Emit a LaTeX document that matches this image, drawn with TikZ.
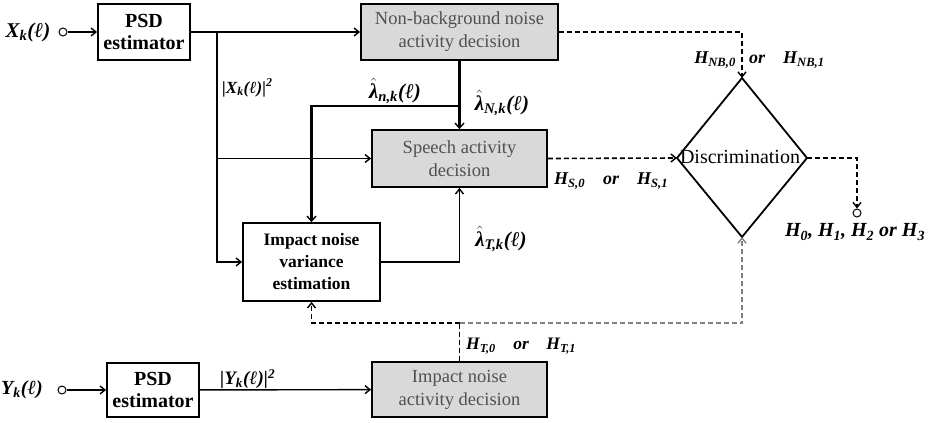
\documentclass[tikz,border=0pt]{standalone}
\usepackage{fontspec}
\setmainfont{Liberation Serif}
\usetikzlibrary{arrows.meta,shapes.geometric}
\definecolor{boxgray}{HTML}{D9D9D9}
\definecolor{txtgray}{HTML}{505050}
\newcommand{\lhat}{$\hat{\hbox{λ}}$}
\begin{document}
\begin{tikzpicture}[x=1pt,y=-1pt,
  every node/.style={font=\fontsize{18.5}{23}\selectfont},
  blk/.style={draw,line width=1.8pt,align=center,inner sep=0pt},
  gblk/.style={blk,fill=boxgray,text=txtgray},
  lbl/.style={font=\fontsize{#1}{#1}\selectfont\bfseries\itshape,inner sep=1pt},
  lbl/.default=18,
  conn/.style={line width=1.4pt,-{Straight Barb[length=5pt,width=8pt]}},
  tconn/.style={line width=2.6pt,-{Straight Barb[length=5pt,width=9pt,line width=1.4pt]}},
  dconn/.style={line width=1.6pt,dash pattern=on 5pt off 3pt,-{Straight Barb[length=5pt,width=8pt,line width=1.4pt]}},
  term/.style={circle,draw,line width=1pt,minimum size=8pt,inner sep=0pt}]
\useasboundingbox (0,0) rectangle (935,423);
% blocks
\node[blk,minimum width=92,minimum height=56,font=\fontsize{20}{22}\selectfont\bfseries] (psd1) at (144,32) {PSD\\estimator};
\node[gblk,minimum width=197,minimum height=56] (nb) at (459.5,32) {Non-background noise\\activity decision};
\node[gblk,minimum width=175,minimum height=57] (sp) at (459.5,158.5) {Speech activity\\decision};
\node[blk,minimum width=137,minimum height=78,font=\fontsize{17.5}{22}\selectfont\bfseries] (inv) at (311.5,262) {Impact noise\\variance\\estimation};
\node[blk,minimum width=92,minimum height=54,font=\fontsize{20}{22}\selectfont\bfseries] (psd2) at (153,390) {PSD\\estimator};
\node[gblk,minimum width=175,minimum height=55] (ina) at (459.5,389.5) {Impact noise\\activity decision};
% diamond
\coordinate (dt) at (742,78);
\coordinate (dl) at (677,158);
\coordinate (dr) at (807,158);
\coordinate (db) at (742,237);
\draw[line width=1.8pt,line join=miter] (dt) -- (dr) -- (db) -- (dl) -- cycle;
\node[inner sep=0pt,font=\fontsize{20}{22}\selectfont] (disc) at (740,157) {Discrimination};
% terminals
\node[term] (cx) at (63,32) {};
\node[term] (cy) at (62,390) {};
\node[term] (co) at (857,213) {};
% labels
\node[lbl=21] (lx) at (28,32) {X\textsubscript{k}(ℓ)};
\node[lbl=20] (ly) at (22,390) {Y\textsubscript{k}(ℓ)};
% junctions
\coordinate (j1) at (217,32);
\coordinate (b1) at (459.5,106);
\coordinate (h1) at (459.5,323);
% connectors
\draw[conn] (cx) -- (psd1);
\draw[conn] (cy) -- (psd2);
\draw[conn] (psd1.east) -- (nb.west);
\draw[line width=2.6pt] (j1) -- (217,158.5);
\draw[conn] (j1) |- (sp.west);
\draw[conn] (j1) |- (inv.west);
\draw[tconn] (nb.south) -- (sp.north);
\draw[tconn] (b1) -| (inv.north);
\draw[conn] (inv.east) -| (sp.south);
\draw[conn] (psd2) -- (ina);
\draw[dconn] (nb.east) -| (dt);
\draw[dconn] (sp.east) -- (dl);
\draw[dconn] (dr) -| (co.north);
\draw[line width=1.6pt,dash pattern=on 5pt off 3pt] (ina.north) -- (h1);
\draw[dconn] (h1) -| (inv.south);
\draw[dconn,draw=gray] (h1) -| (db);
% signal labels
\node[lbl=17,anchor=west] (lxs) at (221,88) {|X\textsubscript{k}(ℓ)|\textsuperscript{2}};
\node[lbl=19,anchor=west] (lys) at (219,379) {|Y\textsubscript{k}(ℓ)|\textsuperscript{2}};
\node[lbl=21,anchor=south] (lnk) at (395,105) {\lhat\textsubscript{n,k}(ℓ)};
\node[lbl=21] (lNk) at (502,103) {\lhat\textsubscript{N,k}(ℓ)};
\node[lbl=21] (lTk) at (501,239) {\lhat\textsubscript{T,k}(ℓ)};
\node[lbl,anchor=east] (lnb0) at (737,60) {H\textsubscript{NB,0}};
\node[lbl,anchor=west] (lnb1) at (748,60) {or\quad H\textsubscript{NB,1}};
\node[lbl,anchor=west] (ls) at (553,181) {H\textsubscript{S,0}\quad or\quad H\textsubscript{S,1}};
\node[lbl=20] (lo) at (855,232) {H\textsubscript{0}, H\textsubscript{1}, H\textsubscript{2} or H\textsubscript{3}};
\node[lbl=17.5,anchor=west] (lt) at (465,346) {H\textsubscript{T,0}\quad or\quad H\textsubscript{T,1}};
\end{tikzpicture}
\end{document}
